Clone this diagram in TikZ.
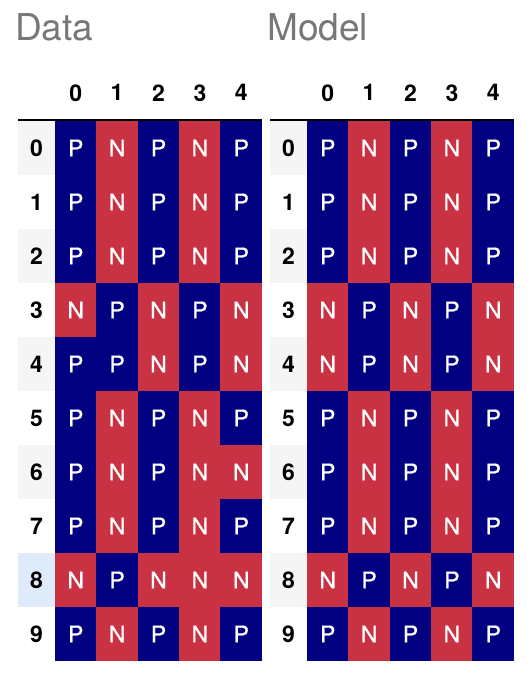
\documentclass[tikz,border=0pt]{standalone}
\usepackage{fontspec}
\setmainfont{TeX Gyre Heros}
\newfontfamily\cellfont[FakeBold=0.8]{TeX Gyre Heros}
\definecolor{colP}{RGB}{0,0,128}
\definecolor{colN}{RGB}{201,50,66}
\definecolor{idxgray}{RGB}{245,245,245}
\definecolor{idxblue}{RGB}{223,234,250}
\definecolor{titlegray}{RGB}{119,119,119}
\begin{document}
\begin{tikzpicture}[x=1pt,y=-1pt,
  cell/.style={fill=col#1, text=white, inner sep=0pt, outer sep=0pt,
    minimum width=42pt, minimum height=54.6pt,
    font=\cellfont\fontsize{23}{27}\selectfont},
  idx/.style={fill=#1, text=black, inner sep=0pt, outer sep=0pt,
    minimum width=37pt, minimum height=54pt,
    font=\fontsize{23}{27}\selectfont\bfseries},
  colhead/.style={text=black, inner sep=0pt, font=\fontsize{23}{27}\selectfont\bfseries},
  title/.style={text=titlegray, inner sep=0pt, anchor=base west, font=\fontsize{37}{42}\selectfont},
  rule/.style={line width=2pt, black}]
\useasboundingbox (0,0) rectangle (530,676);
\fill[white] (0,0) rectangle (530,676);
% titles
\node[title] (datatitle) at (15,41) {Data};
\node[title] (modeltitle) at (267,41) {Model};
% column headers
\foreach \k in {0,...,4}{
  \node[colhead] (LH-\k) at ({55+41.4*(\k+0.5)},92.8) {\k};
  \node[colhead] (RH-\k) at ({307+41.4*(\k+0.5)},92.8) {\k};
}
% left table (Data)
\foreach \va/\vb/\vc/\vd/\ve/\bg [count=\r from 0] in {
  P/N/P/N/P/idxgray, P/N/P/N/P/white, P/N/P/N/P/idxgray,
  N/P/N/P/N/white, P/P/N/P/N/idxgray, P/N/P/N/P/white,
  P/N/P/N/N/idxgray, P/N/P/N/P/white, N/P/N/N/N/idxblue,
  P/N/P/N/P/white}{
  \node[idx=\bg] (LI-\r) at (36.5,{121+54*(\r+0.5)}) {\r};
  \foreach \v [count=\k from 0] in {\va,\vb,\vc,\vd,\ve}{
    \node[cell=\v] (L-\r-\k) at ({55+41.4*(\k+0.5)},{121+54*(\r+0.5)}) {\v};
  }
}
% right table (Model)
\foreach \va/\vb/\vc/\vd/\ve/\bg [count=\r from 0] in {
  P/N/P/N/P/idxgray, P/N/P/N/P/white, P/N/P/N/P/idxgray,
  N/P/N/P/N/white, N/P/N/P/N/idxgray, P/N/P/N/P/white,
  P/N/P/N/P/idxgray, P/N/P/N/P/white, N/P/N/P/N/idxgray,
  P/N/P/N/P/white}{
  \node[idx=\bg] (RI-\r) at (288.5,{121+54*(\r+0.5)}) {\r};
  \foreach \v [count=\k from 0] in {\va,\vb,\vc,\vd,\ve}{
    \node[cell=\v] (R-\r-\k) at ({307+41.4*(\k+0.5)},{121+54*(\r+0.5)}) {\v};
  }
}
% header rules
\coordinate (LruleA) at (18,120);
\coordinate (LruleB) at (262,120);
\coordinate (RruleA) at (270,120);
\coordinate (RruleB) at (514,120);
\draw[rule] (LruleA) -- (LruleB);
\draw[rule] (RruleA) -- (RruleB);
\end{tikzpicture}
\end{document}
